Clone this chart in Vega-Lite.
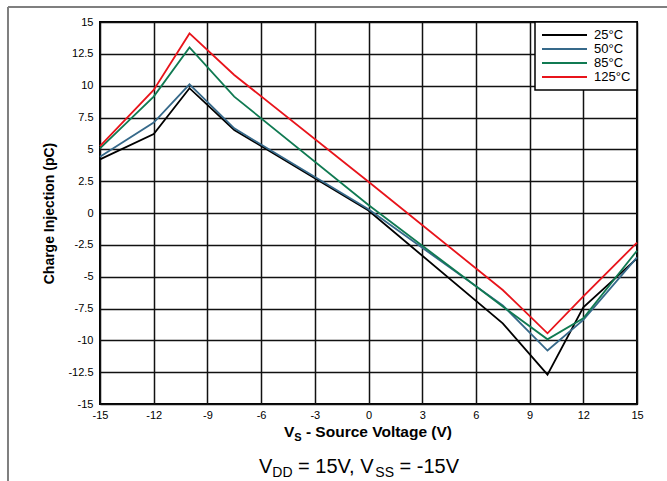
{
  "$schema": "https://vega.github.io/schema/vega-lite/v6.json",
  "width": 537,
  "height": 382,
  "autosize": {"type": "none"},
  "padding": {"left": 100, "top": 22, "right": 30, "bottom": 77},
  "background": "white",
  "config": {
    "font": "Liberation Sans",
    "view": {"stroke": "black", "strokeWidth": 2},
    "axis": {
      "grid": true,
      "gridColor": "#111111",
      "gridWidth": 1.5,
      "domain": false,
      "ticks": false,
      "labelFont": "Liberation Sans",
      "labelFontSize": 11,
      "labelColor": "black",
      "labelFlush": false,
      "labelOverlap": false,
      "titleFont": "Liberation Sans",
      "titleColor": "black",
      "titleFontWeight": "bold"
    },
    "legend": {
      "orient": "top-right",
      "offset": 0,
      "symbolType": "stroke",
      "symbolSize": 2025,
      "symbolStrokeWidth": 2,
      "labelFont": "Liberation Sans",
      "labelFontSize": 13,
      "labelColor": "black",
      "labelOffset": 6,
      "strokeColor": "black",
      "strokeWidth": 1.5,
      "fillColor": "white",
      "padding": 6,
      "rowPadding": 0,
      "clipHeight": 14,
      "cornerRadius": 0
    }
  },
  "datasets": {
    "curves": [
      {"vs": -15, "qinj": 4.21, "temp": "25°C"},
      {"vs": -12, "qinj": 6.2, "temp": "25°C"},
      {"vs": -10, "qinj": 9.8, "temp": "25°C"},
      {"vs": -7.5, "qinj": 6.52, "temp": "25°C"},
      {"vs": 0, "qinj": 0.2, "temp": "25°C"},
      {"vs": 7.5, "qinj": -8.67, "temp": "25°C"},
      {"vs": 10, "qinj": -12.7, "temp": "25°C"},
      {"vs": 12, "qinj": -7.4, "temp": "25°C"},
      {"vs": 15, "qinj": -3.56, "temp": "25°C"},
      {"vs": -15, "qinj": 4.42, "temp": "50°C"},
      {"vs": -12, "qinj": 7.1, "temp": "50°C"},
      {"vs": -10, "qinj": 10.1, "temp": "50°C"},
      {"vs": -7.5, "qinj": 6.65, "temp": "50°C"},
      {"vs": 0, "qinj": 0.29, "temp": "50°C"},
      {"vs": 7.5, "qinj": -7.25, "temp": "50°C"},
      {"vs": 10, "qinj": -10.8, "temp": "50°C"},
      {"vs": 12, "qinj": -8.4, "temp": "50°C"},
      {"vs": 15, "qinj": -3.48, "temp": "50°C"},
      {"vs": -15, "qinj": 5.08, "temp": "85°C"},
      {"vs": -12, "qinj": 9.14, "temp": "85°C"},
      {"vs": -10, "qinj": 13.0, "temp": "85°C"},
      {"vs": -7.5, "qinj": 9.14, "temp": "85°C"},
      {"vs": 0, "qinj": 0.63, "temp": "85°C"},
      {"vs": 7.5, "qinj": -7.35, "temp": "85°C"},
      {"vs": 10, "qinj": -9.92, "temp": "85°C"},
      {"vs": 12, "qinj": -8.27, "temp": "85°C"},
      {"vs": 15, "qinj": -2.96, "temp": "85°C"},
      {"vs": -15, "qinj": 5.26, "temp": "125°C"},
      {"vs": -12, "qinj": 9.66, "temp": "125°C"},
      {"vs": -10, "qinj": 14.1, "temp": "125°C"},
      {"vs": -7.5, "qinj": 10.84, "temp": "125°C"},
      {"vs": 0, "qinj": 2.46, "temp": "125°C"},
      {"vs": 7.5, "qinj": -6.05, "temp": "125°C"},
      {"vs": 10, "qinj": -9.45, "temp": "125°C"},
      {"vs": 12, "qinj": -6.55, "temp": "125°C"},
      {"vs": 15, "qinj": -2.33, "temp": "125°C"}
    ],
    "frameV": [{"x": -20.14, "y": 16.18, "y2": -21.6}],
    "frameH": [{"x": -20.14, "x2": 17.0, "y": 16.18}],
    "xtitleMain": [
      {"x": -4.721, "y": -17.63, "t": "V"},
      {"x": -3.497, "y": -17.63, "t": "- Source Voltage (V)"}
    ],
    "xtitleSub": [
      {"x": -4.145, "y": -17.87, "t": "S"}
    ],
    "noteMain": [
      {"x": -6.117, "y": -20.42, "t": "V"},
      {"x": -3.935, "y": -20.42, "t": "= 15V, V"},
      {"x": 1.735, "y": -20.42, "t": "= -15V"}
    ],
    "noteSub": [
      {"x": -5.374, "y": -20.73, "t": "DD"},
      {"x": 0.38, "y": -20.73, "t": "SS"}
    ]
  },
  "layer": [
    {
      "data": {"name": "curves"},
      "mark": {"type": "line", "strokeWidth": 1.8},
      "encoding": {
        "x": {
          "field": "vs", "type": "quantitative",
          "scale": {"domain": [-15, 15], "nice": false, "zero": false},
          "axis": {"title": null, "values": [-15, -12, -9, -6, -3, 0, 3, 6, 9, 12, 15], "labelExpr": "'' + datum.value", "labelPadding": 5}
        },
        "y": {
          "field": "qinj", "type": "quantitative",
          "scale": {"domain": [-15, 15], "nice": false, "zero": false},
          "axis": {"title": "Charge Injection (pC)", "titleFontSize": 14, "titlePadding": 11, "values": [-15, -12.5, -10, -7.5, -5, -2.5, 0, 2.5, 5, 7.5, 10, 12.5, 15], "labelExpr": "'' + datum.value", "labelPadding": 7}
        },
        "color": {
          "field": "temp", "type": "nominal",
          "scale": {"domain": ["25°C", "50°C", "85°C", "125°C"], "range": ["#000000", "#36698A", "#107A52", "#E8141B"]},
          "legend": {"title": null}
        }
      }
    },
    {
      "data": {"name": "frameV"},
      "mark": {"type": "rule", "color": "#7f7f7f", "strokeWidth": 2, "clip": false},
      "encoding": {
        "x": {"field": "x", "type": "quantitative", "scale": {"domain": [-15, 15], "nice": false, "zero": false},
          "axis": {"title": null, "values": [-15, -12, -9, -6, -3, 0, 3, 6, 9, 12, 15], "labelExpr": "'' + datum.value", "labelPadding": 5}},
        "y": {"field": "y", "type": "quantitative", "scale": {"domain": [-15, 15], "nice": false, "zero": false},
          "axis": {"title": "Charge Injection (pC)", "titleFontSize": 14, "titlePadding": 11, "values": [-15, -12.5, -10, -7.5, -5, -2.5, 0, 2.5, 5, 7.5, 10, 12.5, 15], "labelExpr": "'' + datum.value", "labelPadding": 7}},
        "y2": {"field": "y2"}
      }
    },
    {
      "data": {"name": "frameH"},
      "mark": {"type": "rule", "color": "#7f7f7f", "strokeWidth": 2, "clip": false},
      "encoding": {
        "x": {"field": "x", "type": "quantitative", "scale": {"domain": [-15, 15], "nice": false, "zero": false},
          "axis": {"title": null, "values": [-15, -12, -9, -6, -3, 0, 3, 6, 9, 12, 15], "labelExpr": "'' + datum.value", "labelPadding": 5}},
        "x2": {"field": "x2"},
        "y": {"field": "y", "type": "quantitative", "scale": {"domain": [-15, 15], "nice": false, "zero": false},
          "axis": {"title": "Charge Injection (pC)", "titleFontSize": 14, "titlePadding": 11, "values": [-15, -12.5, -10, -7.5, -5, -2.5, 0, 2.5, 5, 7.5, 10, 12.5, 15], "labelExpr": "'' + datum.value", "labelPadding": 7}}
      }
    },
    {
      "data": {"name": "xtitleMain"},
      "mark": {"type": "text", "align": "left", "baseline": "alphabetic", "font": "Liberation Sans", "fontSize": 15.5, "fontWeight": "bold", "color": "black"},
      "encoding": {
        "x": {"field": "x", "type": "quantitative", "scale": {"domain": [-15, 15], "nice": false, "zero": false},
          "axis": {"title": null, "values": [-15, -12, -9, -6, -3, 0, 3, 6, 9, 12, 15], "labelExpr": "'' + datum.value", "labelPadding": 5}},
        "y": {"field": "y", "type": "quantitative", "scale": {"domain": [-15, 15], "nice": false, "zero": false},
          "axis": {"title": "Charge Injection (pC)", "titleFontSize": 14, "titlePadding": 11, "values": [-15, -12.5, -10, -7.5, -5, -2.5, 0, 2.5, 5, 7.5, 10, 12.5, 15], "labelExpr": "'' + datum.value", "labelPadding": 7}},
        "text": {"field": "t"}
      }
    },
    {
      "data": {"name": "xtitleSub"},
      "mark": {"type": "text", "align": "left", "baseline": "alphabetic", "font": "Liberation Sans", "fontSize": 11, "fontWeight": "bold", "color": "black"},
      "encoding": {
        "x": {"field": "x", "type": "quantitative", "scale": {"domain": [-15, 15], "nice": false, "zero": false},
          "axis": {"title": null, "values": [-15, -12, -9, -6, -3, 0, 3, 6, 9, 12, 15], "labelExpr": "'' + datum.value", "labelPadding": 5}},
        "y": {"field": "y", "type": "quantitative", "scale": {"domain": [-15, 15], "nice": false, "zero": false},
          "axis": {"title": "Charge Injection (pC)", "titleFontSize": 14, "titlePadding": 11, "values": [-15, -12.5, -10, -7.5, -5, -2.5, 0, 2.5, 5, 7.5, 10, 12.5, 15], "labelExpr": "'' + datum.value", "labelPadding": 7}},
        "text": {"field": "t"}
      }
    },
    {
      "data": {"name": "noteMain"},
      "mark": {"type": "text", "align": "left", "baseline": "alphabetic", "font": "Liberation Sans", "fontSize": 20, "color": "black"},
      "encoding": {
        "x": {"field": "x", "type": "quantitative", "scale": {"domain": [-15, 15], "nice": false, "zero": false},
          "axis": {"title": null, "values": [-15, -12, -9, -6, -3, 0, 3, 6, 9, 12, 15], "labelExpr": "'' + datum.value", "labelPadding": 5}},
        "y": {"field": "y", "type": "quantitative", "scale": {"domain": [-15, 15], "nice": false, "zero": false},
          "axis": {"title": "Charge Injection (pC)", "titleFontSize": 14, "titlePadding": 11, "values": [-15, -12.5, -10, -7.5, -5, -2.5, 0, 2.5, 5, 7.5, 10, 12.5, 15], "labelExpr": "'' + datum.value", "labelPadding": 7}},
        "text": {"field": "t"}
      }
    },
    {
      "data": {"name": "noteSub"},
      "mark": {"type": "text", "align": "left", "baseline": "alphabetic", "font": "Liberation Sans", "fontSize": 14, "color": "black"},
      "encoding": {
        "x": {"field": "x", "type": "quantitative", "scale": {"domain": [-15, 15], "nice": false, "zero": false},
          "axis": {"title": null, "values": [-15, -12, -9, -6, -3, 0, 3, 6, 9, 12, 15], "labelExpr": "'' + datum.value", "labelPadding": 5}},
        "y": {"field": "y", "type": "quantitative", "scale": {"domain": [-15, 15], "nice": false, "zero": false},
          "axis": {"title": "Charge Injection (pC)", "titleFontSize": 14, "titlePadding": 11, "values": [-15, -12.5, -10, -7.5, -5, -2.5, 0, 2.5, 5, 7.5, 10, 12.5, 15], "labelExpr": "'' + datum.value", "labelPadding": 7}},
        "text": {"field": "t"}
      }
    }
  ]
}
